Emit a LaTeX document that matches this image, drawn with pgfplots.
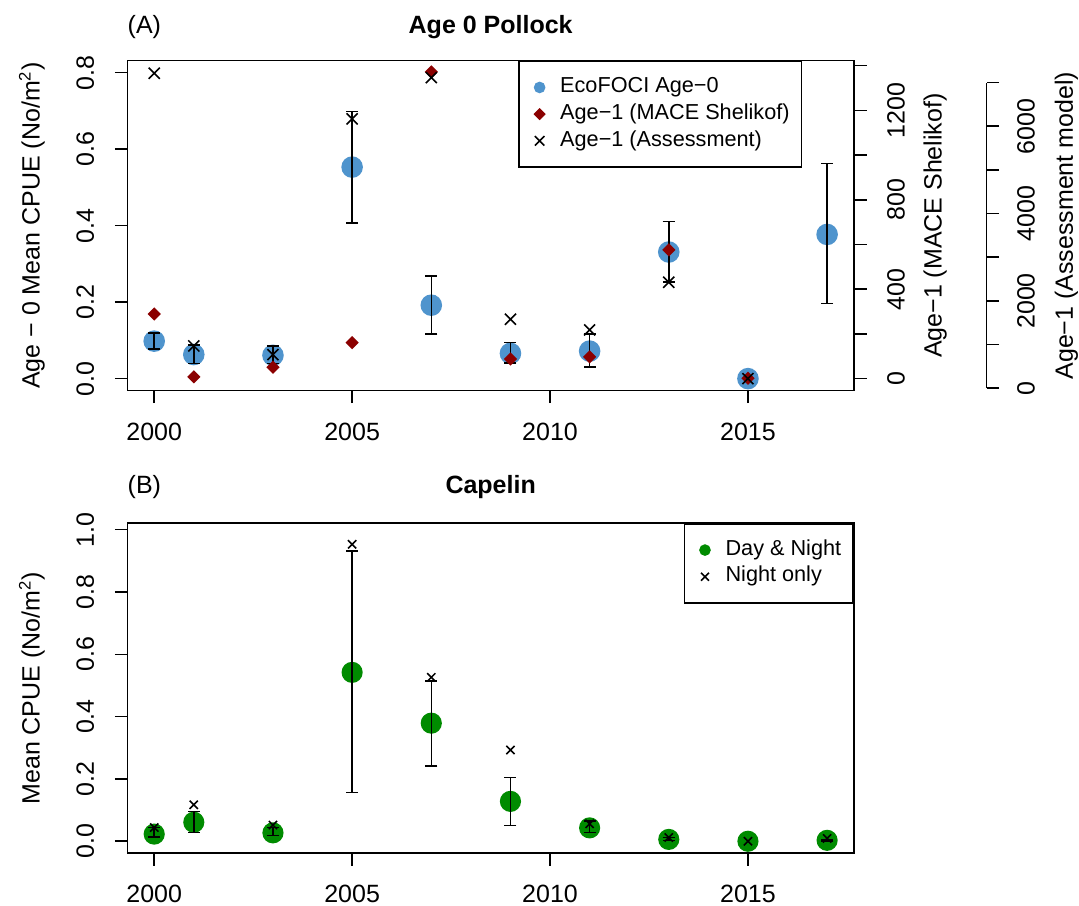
\documentclass[border=0pt]{standalone}
\usepackage{pgfplots}
\pgfplotsset{compat=1.18}
\usepackage{pgfplotstable}
\usepackage{fontspec}
\setmainfont{Liberation Sans}

\definecolor{ecoblue}{RGB}{79,148,205}
\definecolor{macered}{RGB}{139,0,0}
\definecolor{capgreen}{RGB}{0,139,0}

% Age-0 pollock (EcoFOCI): mean and error-bar ends
\pgfplotstableread{
year y lo hi
2000 0.098 0.077 0.119
2001 0.063 0.040 0.088
2003 0.061 0.040 0.086
2005 0.553 0.407 0.698
2007 0.192 0.116 0.269
2009 0.066 0.041 0.095
2011 0.072 0.031 0.116
2013 0.331 0.252 0.411
2015 0.000 0.000 0.000
2017 0.377 0.196 0.562
}\agezero

% Age-1 MACE Shelikof
\pgfplotstableread{
year y
2000 289
2001 8
2003 51
2005 161
2007 1372
2009 88
2011 97
2013 576
2015 2
}\mace

% Age-1 assessment model
\pgfplotstableread{
year y
2000 7215
2001 969
2003 770
2005 6169
2007 7115
2009 1581
2011 1335
2013 2428
2015 220
}\assess

% Capelin day & night
\pgfplotstableread{
year y lo hi
2000 0.023 0.014 0.044
2001 0.061 0.028 0.095
2003 0.027 0.019 0.044
2005 0.542 0.156 0.932
2007 0.379 0.242 0.514
2009 0.128 0.050 0.204
2011 0.043 0.028 0.065
2013 0.006 0.002 0.012
2015 0.000 0.000 0.000
2017 0.003 0.001 0.006
}\capday

% Capelin night only
\pgfplotstableread{
year y
2000 0.044
2001 0.117
2003 0.052
2005 0.953
2007 0.526
2009 0.293
2011 0.056
2013 0.012
2015 0.000
2017 0.009
}\capnight

\pgfplotsset{
  every axis/.append style={
    scale only axis, width=348.82pt, height=158.4pt,
    xmin=1999.32, xmax=2017.68,
    axis line style={line width=0.75pt, black},
    tick align=outside, major tick length=6pt,
    tick style={line width=0.75pt, black},
    tick label style={font=\fontsize{12}{14.4}\selectfont},
    clip marker paths=true,
  },
  every axis plot/.append style={line width=0.75pt},
  lgimg/.style={legend image code/.code={
      \draw[##1] plot coordinates {(0pt,0pt)};
      \path (-3.7pt,0pt) (9.5pt,0pt);}},
  mylegend/.style={
    legend style={draw=black, fill=white, line width=0.75pt,
      font=\fontsize{10.4}{12}\selectfont,
      inner xsep=5.8pt, inner ysep=7.5pt, row sep=2.8pt, column sep=0pt,
      nodes={inner sep=0pt, text height=7.5pt, text depth=2.5pt}},
    legend cell align=left},
  errbars/.style={draw=none, mark=none, black, forget plot,
    error bars/.cd, y dir=both, y explicit, error mark=-,
    error mark options={rotate=90, draw=black, mark size=2.9pt, line width=0.75pt},
    error bar style={draw=black, solid, line width=0.75pt}},
  leftlab/.style={every axis y label/.style={at={(rel axis cs:0,0.5)}, xshift=-42.1pt,
    rotate=90, anchor=base, font=\fontsize{12}{14.4}\selectfont}},
}

\begin{document}
\begin{tikzpicture}
\useasboundingbox (-61.1pt,-246.9pt) rectangle (456.8pt,187.5pt);

% ---------------- Panel A: main axis ----------------
\begin{axis}[name=top, at={(0pt,0pt)}, anchor=south west,
  ymin=-0.0314, ymax=0.8314,
  xtick={2000,2005,2010,2015}, xticklabels={2000,2005,2010,2015},
  ytick={0,0.2,0.4,0.6,0.8}, yticklabels={0.0,0.2,0.4,0.6,0.8},
  xtick pos=bottom, ytick pos=left,
  xticklabel style={anchor=base, yshift=-17.7pt},
  yticklabel style={xshift=-10pt, rotate=90, anchor=base},
  ylabel={Age − 0 Mean CPUE (No/m\textsuperscript{2})}, leftlab,
  title={Age 0 Pollock},
  every axis title/.style={at={(0.5,1)}, anchor=base, yshift=12.8pt,
    font=\fontsize{12}{14.4}\selectfont\bfseries},
]
\addplot[only marks, mark=*, mark size=4.8pt, mark options={fill=ecoblue, draw=ecoblue}]
  table[x=year,y=y]{\agezero};
\addplot[skip coords between index={8}{9}, errbars]
  table[x=year, y=y, y error plus expr=\thisrow{hi}-\thisrow{y}, y error minus expr=\thisrow{y}-\thisrow{lo}]{\agezero};
\end{axis}

% MACE overlay (right axis 1)
\begin{axis}[at={(0pt,0pt)}, anchor=south west,
  ymin=-53.7, ymax=1422.4,
  axis x line=none, axis y line*=right, y axis line style={-},
  ytick pos=right, yticklabel pos=right,
  ytick={0,200,...,1400}, yticklabels={0,,400,,800,,1200,},
  yticklabel style={xshift=18.3pt, rotate=90, anchor=base},
  ylabel={Age−1 (MACE Shelikof)},
  every axis y label/.style={at={(rel axis cs:1,0.5)}, xshift=42pt, rotate=90, anchor=base,
    font=\fontsize{12}{14.4}\selectfont},
]
\addplot[only marks, mark=square*, mark size=1.87pt, mark options={rotate=45, fill=macered, draw=macered}]
  table[x=year,y=y]{\mace};
\end{axis}

% Assessment overlay (data + legend)
\begin{axis}[at={(0pt,0pt)}, anchor=south west,
  ymin=-55, ymax=7504, hide axis,
  mylegend, legend style={at={(0.538,1)}, anchor=north west},
]
\addlegendimage{only marks, mark=*, mark size=2.4pt, mark options={fill=ecoblue, draw=ecoblue}, lgimg}
\addlegendentry{EcoFOCI Age−0}
\addlegendimage{only marks, mark=square*, mark size=1.7pt, mark options={rotate=45, fill=macered, draw=macered}, lgimg}
\addlegendentry{Age−1 (MACE Shelikof)}
\addplot[only marks, mark=x, mark size=3.75pt, black, lgimg, legend image post style={mark size=3.2pt}]
  table[x=year,y=y]{\assess};
\addlegendentry{Age−1 (Assessment)}
\end{axis}

% Assessment axis (right axis 2)
\begin{axis}[at={(0pt,1.15pt)}, anchor=south west, width=412.5pt, height=146.7pt,
  xmin=0, xmax=1, ymin=0, ymax=7000,
  axis x line=none, axis y line*=right, y axis line style={-},
  ytick pos=right, yticklabel pos=right,
  ytick={0,1000,...,7000}, yticklabels={0,,2000,,4000,,6000,},
  yticklabel style={xshift=17pt, rotate=90, anchor=base},
  ylabel={Age−1 (Assessment model)},
  every axis y label/.style={at={(rel axis cs:1,0.532)}, xshift=41.4pt, rotate=90, anchor=base,
    font=\fontsize{12}{14.4}\selectfont},
]
\end{axis}

% ---------------- Panel B ----------------
\begin{axis}[name=bot, at={(0pt,-222.05pt)}, anchor=south west,
  ymin=-0.0385, ymax=1.0205,
  xtick={2000,2005,2010,2015}, xticklabels={2000,2005,2010,2015},
  ytick={0,0.2,0.4,0.6,0.8,1.0}, yticklabels={0.0,0.2,0.4,0.6,0.8,1.0},
  xtick pos=bottom, ytick pos=left,
  xticklabel style={anchor=base, yshift=-17.7pt},
  yticklabel style={xshift=-10pt, rotate=90, anchor=base},
  ylabel={Mean CPUE (No/m\textsuperscript{2})}, leftlab,
  title={Capelin},
  every axis title/.style={at={(0.5,1)}, anchor=base, yshift=14.2pt,
    font=\fontsize{12}{14.4}\selectfont\bfseries},
  mylegend, legend style={at={(1,1)}, anchor=north east},
]
\addplot[only marks, mark=*, mark size=4.7pt, mark options={fill=capgreen, draw=capgreen}, lgimg,
  legend image post style={mark size=2.4pt}]
  table[x=year,y=y]{\capday};
\addlegendentry{Day \& Night}
\addplot[skip coords between index={8}{9}, errbars]
  table[x=year, y=y, y error plus expr=\thisrow{hi}-\thisrow{y}, y error minus expr=\thisrow{y}-\thisrow{lo}]{\capday};
\addplot[only marks, mark=x, mark size=2.8pt, black, lgimg, legend image post style={mark size=2.7pt}]
  table[x=year,y=y]{\capnight};
\addlegendentry{Night only}
\end{axis}

\node[anchor=base west, inner sep=0pt, font=\fontsize{12}{14.4}\selectfont] at ([yshift=12.8pt]top.north west) {(A)};
\node[anchor=base west, inner sep=0pt, font=\fontsize{12}{14.4}\selectfont] at ([yshift=14.2pt]bot.north west) {(B)};
\end{tikzpicture}
\end{document}
